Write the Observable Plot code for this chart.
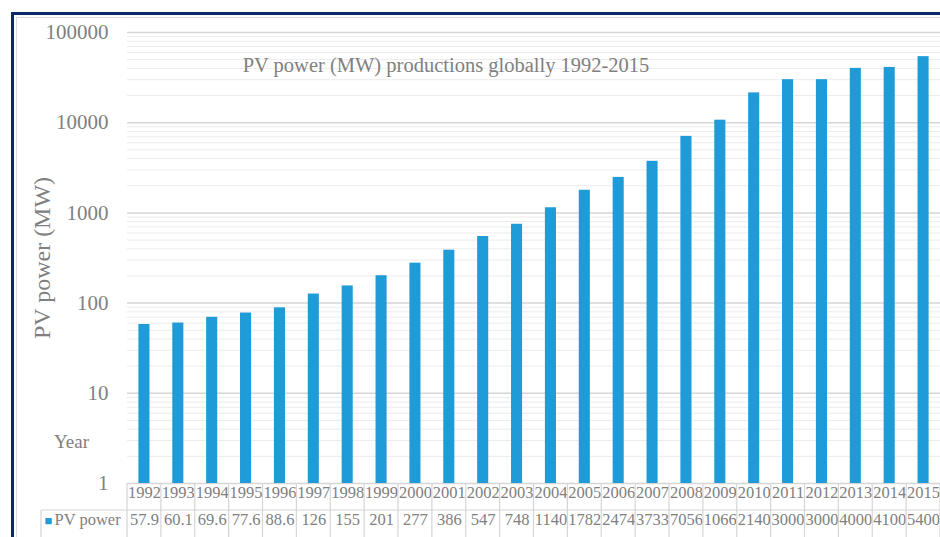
<!DOCTYPE html>
<html>
<head>
<meta charset="utf-8">
<script src="https://cdn.jsdelivr.net/npm/d3@7"></script>
<script src="https://cdn.jsdelivr.net/npm/@observablehq/plot@0.6"></script>
<style>
  html, body { margin: 0; padding: 0; background: #ffffff; }
  #wrap { position: relative; width: 940px; height: 537px; overflow: hidden; background: #fff; }
  #navy { position: absolute; left: 11px; top: 12px; width: 960px; height: 560px;
          border-top: 3px solid #0c2a6a; border-left: 3px solid #0c2a6a; }
  #inner { position: absolute; left: 16px; top: 17px; width: 960px; height: 560px;
           border-top: 1px solid #dcdcdc; border-left: 1px solid #dcdcdc; }
  #chart { position: absolute; left: 0; top: 0; }
</style>
</head>
<body>
<div id="wrap">
  <div id="navy"></div>
  <div id="inner"></div>
  <div id="chart"></div>
</div>
<script>
// ---- data ----
const years = [1992, 1993, 1994, 1995, 1996, 1997, 1998, 1999, 2000, 2001, 2002, 2003,
               2004, 2005, 2006, 2007, 2008, 2009, 2010, 2011, 2012, 2013, 2014, 2015];
const pvPower = [57.9, 60.1, 69.6, 77.6, 88.6, 126, 155, 201, 277, 386, 547, 748,
                 1140, 1782, 2474, 3733, 7056, 10660, 21400, 30000, 30000, 40000, 41000, 54000];
const tableLabels = ["57.9", "60.1", "69.6", "77.6", "88.6", "126", "155", "201", "277", "386", "547", "748",
                     "1140", "1782", "2474", "3733", "7056", "1066", "2140", "3000", "3000", "4000", "4100", "5400"];
const yTicks = [1, 10, 100, 1000, 10000, 100000];

const titleText = "PV power (MW) productions globally 1992-2015";
const yLabel = "PV power (MW)";
const xLabel = "Year";
const seriesName = "PV power";

const data = years.map((y, i) => ({year: y, value: pvPower[i], label: tableLabels[i]}));
const minorTicks = [];
for (let k = 0; k < yTicks.length - 1; k++) {
  for (let m = 2; m <= 9; m++) minorTicks.push(yTicks[k] * m);
}

const blue = "#1f9bd7";
const grey = "#808080";
const font = "'Liberation Serif', 'DejaVu Serif', serif";

const plot = Plot.plot({
  width: 940,
  height: 537,
  marginLeft: 127,
  marginRight: 0,
  marginTop: 32,
  marginBottom: 54,
  style: {fontFamily: font, background: "transparent", overflow: "visible"},
  x: {type: "band", domain: years, padding: 0, round: false, axis: null},
  y: {type: "log", domain: [1, 100000]},
  marks: [
    Plot.ruleY(minorTicks, {stroke: "#ececec", strokeWidth: 1}),
    Plot.ruleY(yTicks, {stroke: "#d6d6d6", strokeWidth: 1.5}),
    Plot.barY(data, {x: "year", y1: 1, y2: "value", fill: blue, insetLeft: 11.4, insetRight: 11.4}),
    Plot.axisY({ticks: yTicks, tickFormat: d => String(d), tickSize: 0, tickPadding: 19,
                fontSize: 21, color: grey, label: null}),
    Plot.text([yLabel], {frameAnchor: "left", textAnchor: "middle", rotate: -90, dx: -85, fontSize: 24, fill: grey}),
    Plot.text([titleText], {frameAnchor: "top", textAnchor: "middle", dx: -88, dy: 25, fontSize: 20.5, fill: grey}),
    Plot.text([xLabel], {frameAnchor: "bottom-left", textAnchor: "middle", dx: -56, dy: -36, fontSize: 19, fill: grey}),
    Plot.text(data, {x: "year", text: d => String(d.year), frameAnchor: "bottom", dy: 14, fontSize: 16.5, fill: grey}),
    Plot.text(data, {x: "year", text: "label", frameAnchor: "bottom", dy: 41, fontSize: 16.5, fill: grey}),
    Plot.text(["\u25A0"], {frameAnchor: "bottom-left", textAnchor: "start", dx: -83, dy: 41, fontSize: 13, fill: blue}),
    Plot.text([seriesName], {frameAnchor: "bottom-left", textAnchor: "start", dx: -73, dy: 41, fontSize: 16.5, fill: grey})
  ]
});

document.getElementById("chart").appendChild(plot);

// table grid lines, placed with the plot's own scales
const xs = plot.scale("x");
const ys = plot.scale("y");
const yBase = ys.apply(1);
const rowH = 27;
const edges = years.map(y => xs.apply(y));
edges.push(edges[edges.length - 1] + xs.bandwidth);
const svg = d3.select(plot);
const g = svg.append("g").attr("stroke", "#d6d6d6").attr("stroke-width", 1.2);
edges.forEach(e => {
  g.append("line").attr("x1", e).attr("x2", e).attr("y1", yBase).attr("y2", yBase + 2 * rowH + 2);
});
g.append("line").attr("x1", 41).attr("x2", 940).attr("y1", yBase + rowH).attr("y2", yBase + rowH);
g.append("line").attr("x1", 41).attr("x2", 41).attr("y1", yBase + rowH).attr("y2", yBase + 2 * rowH + 2);
</script>
</body>
</html>
